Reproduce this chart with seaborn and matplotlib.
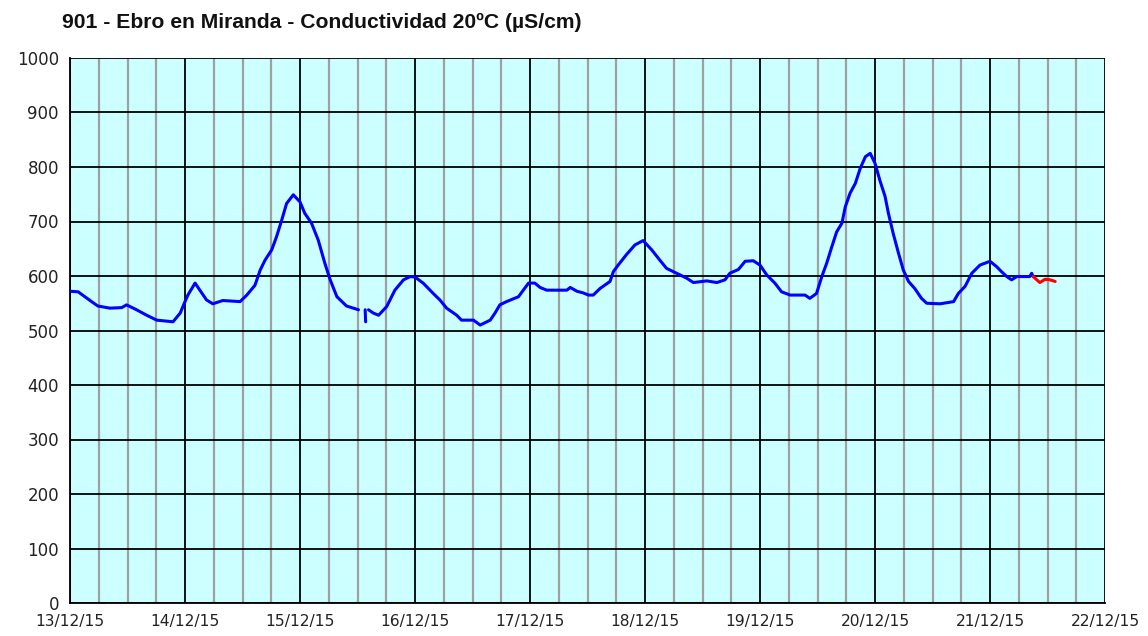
import matplotlib
matplotlib.use("Agg")
import matplotlib.pyplot as plt
import matplotlib.dates as mdates
import pandas as pd
import seaborn as sns

# --- Data (hours since 13/12/15 00:00, conductivity uS/cm) ---
START = "2015-12-13"

seg1_hours = [0, 1.7, 3.1, 4.5, 5.8, 8.3, 10.8, 11.8, 13.9, 16.0, 18.1, 21.5, 23.0,
              24.0, 24.6, 26.1, 27.1, 28.5, 29.8, 31.9, 35.5, 36.9, 38.6, 39.7,
              40.7, 42.1, 43.1, 44.2, 45.2, 46.6, 48.0, 49.0, 50.4, 51.8, 53.2,
              54.3, 55.7, 57.7, 60.2]
seg1_vals = [572, 571, 562, 553, 545, 541, 542, 547, 538, 528, 519, 516, 532,
             553, 565, 587, 574, 556, 549, 555, 553, 565, 583, 611,
             629, 648, 672, 703, 733, 749, 736, 715, 697, 666, 623,
             593, 562, 545, 538]

seg2_hours = [61.6, 61.7]
seg2_vals = [538, 516]

seg3_hours = [62.3, 63.3, 64.4, 66.1, 67.8, 69.6, 71.0, 72.0, 73.7, 75.8, 77.2,
              78.6, 80.7, 81.7, 84.2, 85.6, 87.7, 88.7, 89.7, 91.1, 93.6, 94.6,
              95.7, 97.0, 98.1, 99.5, 103.7, 104.4, 105.8, 107.1, 108.2, 109.2,
              110.6, 112.7, 113.4, 114.4, 116.2, 117.9, 119.6, 121.4, 123.1,
              124.5, 126.6, 128.7, 130.1, 132.9, 135.0, 136.7, 137.7, 139.5,
              140.9, 142.6, 144.0, 145.4, 147.1, 148.5, 150.3, 153.4, 154.4,
              155.8, 156.9, 157.9, 159.0, 160.0, 161.1, 161.8, 162.8, 163.9,
              164.9, 166.0, 167.0, 168.0, 169.0, 170.1, 170.8, 171.8, 172.9,
              173.9, 175.0, 176.3, 177.7, 178.8, 181.6, 184.4, 185.4, 186.8,
              188.2, 189.9, 192.0, 193.4, 194.4, 195.5, 196.5, 197.6, 200.3,
              200.7, 201.0]
seg3_vals = [538, 532, 528, 544, 574, 593, 599, 598, 587, 568, 556,
             541, 528, 519, 519, 510, 519, 532, 547, 553, 562, 574,
             587, 587, 579, 574, 574, 579, 572, 569, 565, 565,
             577, 590, 608, 620, 640, 657, 665, 648, 629,
             614, 605, 596, 588, 591, 588, 593, 605, 612,
             627, 628, 620, 602, 587, 571, 565, 565, 559,
             568, 599, 623, 654, 681, 697, 727, 752, 770,
             797, 819, 825, 807, 776, 746, 715, 678, 642,
             611, 590, 577, 559, 550, 549, 553, 568, 581,
             605, 620, 627, 617, 608, 599, 593, 599, 599,
             605, 599]

# provisional values (red)
prov_hours = [201.0, 202.4, 203.5, 204.5, 205.6]
prov_vals = [599, 588, 594, 593, 590]

TITLE = "901 - Ebro en Miranda - Conductividad 20ºC (µS/cm)"
BG = "#CCFFFF"


def make_df(hours, vals, seg):
    t = pd.Timestamp(START) + pd.to_timedelta(hours, unit="h")
    return pd.DataFrame({"time": t, "value": vals, "seg": seg})


def main():
    sns.set_style("white")
    plt.rcParams["font.family"] = ["DejaVu Sans"]

    fig = plt.figure(figsize=(11.48, 6.36), dpi=100)
    ax = fig.add_axes([70 / 1148, 1 - 603 / 636, 1035 / 1148, 545 / 636])
    ax.set_facecolor(BG)

    segs = [(seg1_hours, seg1_vals, "blue"),
            (seg2_hours, seg2_vals, "blue"),
            (seg3_hours, seg3_vals, "blue"),
            (prov_hours, prov_vals, "red")]
    for i, (h, v, c) in enumerate(segs):
        df = make_df(h, v, i)
        sns.lineplot(data=df, x="time", y="value", color=c, linewidth=2.2,
                     estimator=None, ax=ax, zorder=5)

    ax.set_xlim(pd.Timestamp("2015-12-13"), pd.Timestamp("2015-12-22"))
    ax.set_ylim(0, 1000)
    ax.set_yticks(range(0, 1001, 100))

    ax.xaxis.set_major_locator(mdates.DayLocator())
    ax.xaxis.set_minor_locator(mdates.HourLocator(byhour=[6, 12, 18]))
    ax.xaxis.set_major_formatter(mdates.DateFormatter("%d/%m/%y"))

    # grid: black major, gray minor every 6 h
    ax.grid(True, which="major", axis="both", color="black", linewidth=1.3)
    ax.grid(True, which="minor", axis="x", color="#A0A0A0", linewidth=1.6)
    ax.set_axisbelow(True)

    for s in ["top", "right"]:
        ax.spines[s].set_visible(False)
    for s in ["left", "bottom"]:
        ax.spines[s].set_color("black")
        ax.spines[s].set_linewidth(1.3)

    ax.tick_params(axis="both", which="major", direction="out", length=5,
                   width=1.3, color="black", pad=3)
    ax.tick_params(axis="x", which="major", labelsize=11.2, labelcolor="#222222")
    ax.tick_params(axis="y", which="major", labelsize=12, labelcolor="#222222")
    ax.tick_params(axis="x", which="minor", length=0)
    ax.set_xlabel("")
    ax.set_ylabel("")

    fig.text(62 / 1148, 1 - 22 / 636, TITLE, ha="left", va="center",
             fontsize=15.2, fontweight="bold", family=["Liberation Sans"],
             color="#111111")

    fig.savefig("out.png", dpi=100)
    plt.close(fig)


if __name__ == "__main__":
    main()
